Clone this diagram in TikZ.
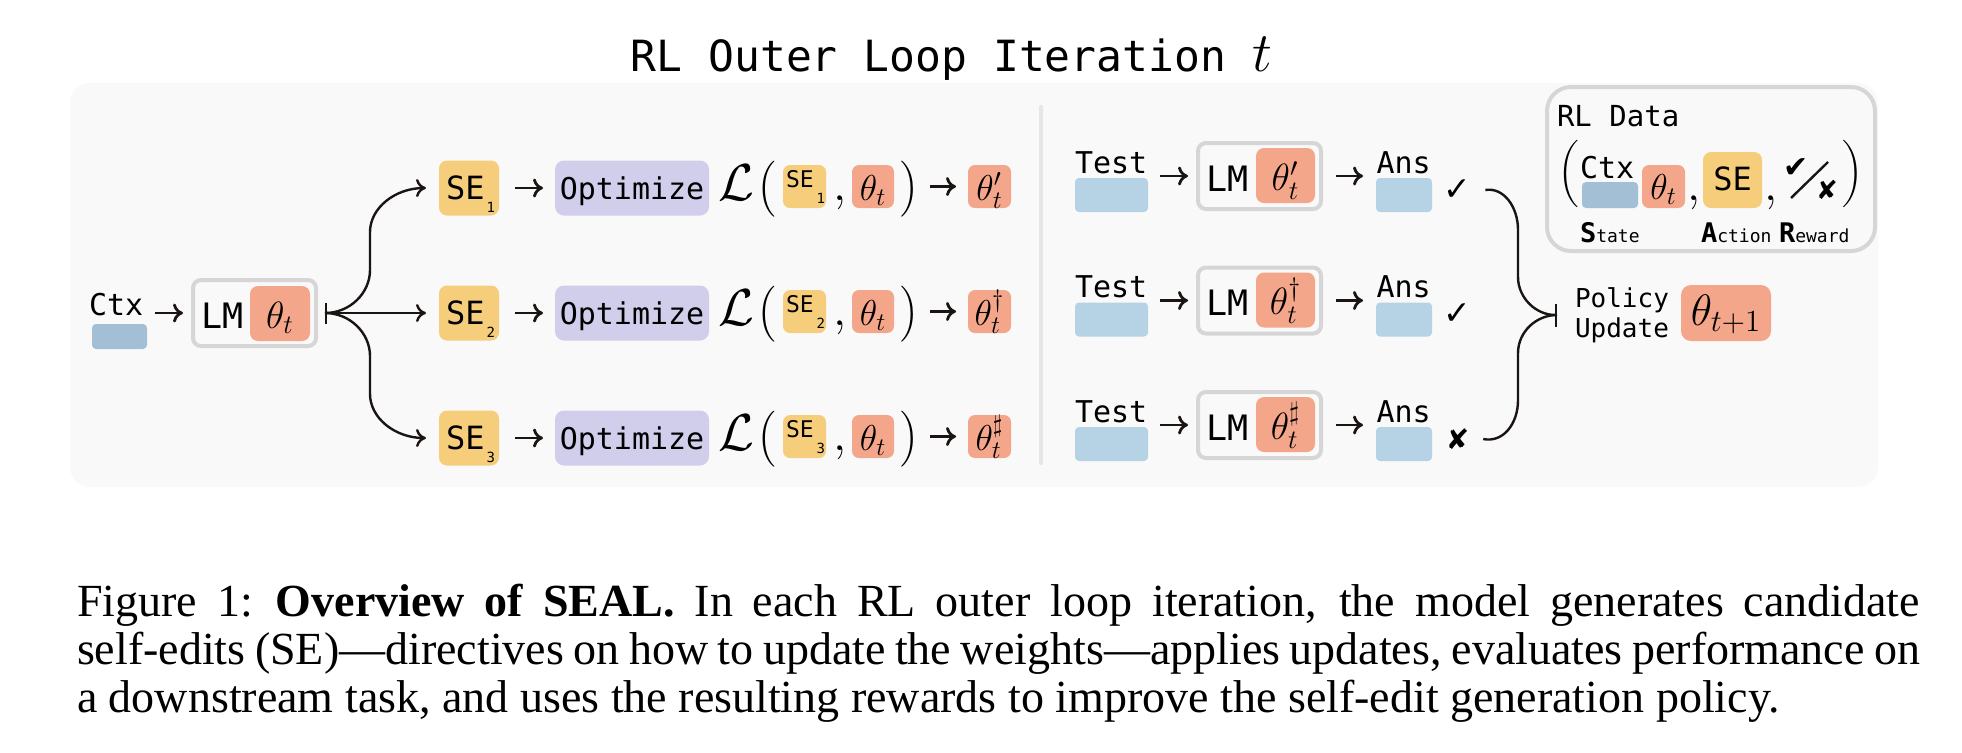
\RequirePackage{fix-cm}
\documentclass[tikz,border=0pt]{standalone}
\usepackage{amsmath,amssymb}
\usepackage{fontspec}
\usepackage{tikz}
\usetikzlibrary{arrows.meta}

\newfontfamily\monofont{DejaVu Sans Mono}
\newfontfamily\symbfont{DejaVu Sans}
\newfontfamily\capfont{Liberation Serif}

\definecolor{panelgray}{HTML}{F9F9F9}
\definecolor{thetared}{HTML}{F4A68B}
\definecolor{seyellow}{HTML}{F6CD7B}
\definecolor{optpurple}{HTML}{D1CEEC}
\definecolor{testblue}{HTML}{B6D2E5}
\definecolor{ctxblue}{HTML}{A3BFD6}
\definecolor{framegray}{HTML}{D6D6D6}
\definecolor{splitgray}{HTML}{E6E6E6}
\definecolor{inkblack}{HTML}{1A1512}

\tikzset{
    every node/.style={inner sep=0pt,outer sep=0pt},
    arr/.style={-{To[length=5pt,width=9.5pt]},line width=1.4pt,draw=inkblack},
    forkarr/.style={-{To[length=5pt,width=9pt]},line width=1.2pt,draw=inkblack},
    thetabox/.style={fill=thetared,rounded corners=4pt},
    sebox/.style={fill=seyellow,rounded corners=4pt},
    optbox/.style={fill=optpurple,rounded corners=4.5pt,minimum width=77pt,minimum height=27.5pt},
    lmbox/.style={draw=framegray,line width=2pt,fill=panelgray,rounded corners=4pt,minimum width=61.5pt,minimum height=33pt},
    inbar/.style={rounded corners=2pt},
    mono/.style={font=\monofont\fontsize{15}{18}\selectfont},
    lmtext/.style={font=\monofont\fontsize{17.5}{20}\selectfont},
    bigtheta/.style={font=\fontsize{19}{21}\selectfont},
    smalltheta/.style={font=\fontsize{18}{20}\selectfont},
    captext/.style={anchor=base west,font=\capfont\fontsize{23}{24}\selectfont},
}

\begin{document}
\begin{tikzpicture}[x=0.5pt,y=-0.5pt]
    \useasboundingbox (0,0) rectangle (1962,752);
    \fill[panelgray,rounded corners=10pt] (70,83) rectangle (1878,487);
    \draw[splitgray,line width=2pt,line cap=round] (1041,107) -- (1041,463);

    \node[anchor=base west,font=\monofont\fontsize{21.5}{24}\selectfont] (title) at (630.7,71)
        {RL Outer Loop Iteration~{\fontsize{28}{28}\selectfont$t$}};

    % context and current model
    \node[anchor=base west,mono] (ctxlbl) at (89,315) {Ctx};
    \node[fill=ctxblue,inbar,minimum width=27.5pt,minimum height=12.5pt] (ctx) at (119.5,336.5) {};
    \node[lmbox] (lm) at (254.5,313) {};
    \node[thetabox,minimum width=30pt,minimum height=27.5pt] (lmth) at (280,313.5) {};
    \node[anchor=base west,lmtext] (lmlbl) at (201.5,328) {LM};
    \node[anchor=base,bigtheta] (lmthlbl) at (280,328) {$\theta_t$};
    \draw[arr,shorten <=6pt,shorten >=5pt] (ctxlbl.east |- lm.west) -- (lm.west);

    % self-edits and inner optimisation
    \foreach \r/\y/\deco in {1/188/\prime,2/313/\dagger,3/438/\sharp}{
        \node[sebox,minimum width=30pt,minimum height=27.5pt] (se\r) at (469,\y) {};
        \node[anchor=base west,font=\monofont\fontsize{16}{18}\selectfont] (selbl\r) at (446,\y+11)
            {SE\kern1pt\raisebox{-6.5pt}{\fontsize{7}{7}\selectfont\r}};
        \node[optbox] (opt\r) at (632,\y) {};
        \node[anchor=base,mono] (optlbl\r) at (632,\y+11) {Optimize};
        \node[anchor=base,font=\fontsize{26}{28}\selectfont] (loss\r) at (736,\y+12) {$\mathcal{L}$};
        \node[font=\fontsize{15.5}{17}\selectfont] (lp\r) at (766.5,\y+1) {$\Big($};
        \node[sebox,rounded corners=3.5pt,minimum width=21.5pt,minimum height=21.5pt] (ses\r) at (804.5,\y-1.5) {};
        \node[anchor=base west,font=\monofont\fontsize{11.5}{13}\selectfont] (seslbl\r) at (786,\y-1)
            {SE\kern1.5pt\raisebox{-8pt}{\fontsize{7}{7}\selectfont\r}};
        \node[anchor=base,font=\fontsize{24}{26}\selectfont] (cm\r) at (840,\y+12) {$,$};
        \node[thetabox,rounded corners=3.5pt,minimum width=21pt,minimum height=21.5pt] (th\r) at (873,\y-1.5) {};
        \node[anchor=base,smalltheta] (thlbl\r) at (873,\y+12) {$\theta_t$};
        \node[font=\fontsize{15.5}{17}\selectfont] (rp\r) at (909.5,\y+1) {$\Big)$};
        \node[thetabox,rounded corners=3.5pt,minimum width=21.5pt,minimum height=21.5pt] (out\r) at (989.5,\y-1.5) {};
        \node[anchor=base,smalltheta] (outlbl\r) at (989.5,\y+12) {$\theta_t^{\deco}$};
        \draw[arr,shorten <=8pt,shorten >=6pt] (se\r) -- (opt\r);
        \draw[arr,shorten <=5.5pt,shorten >=6pt] (rp\r.east |- out\r.west) -- (out\r.west);
    }

    % sampling the self-edits
    \coordinate (fork) at (325,313);
    \draw[forkarr,{Bar[width=10.5pt]}-{To[length=5pt,width=9pt]}] (fork) -- ([xshift=-6.5pt]se2.west);
    \draw[forkarr] (fork) .. controls (350,313) and (370,293) .. (370,270) -- (370,232)
        .. controls (370,208) and (395,188) .. ([xshift=-6.5pt]se1.west);
    \draw[forkarr] (fork) .. controls (350,313) and (370,333) .. (370,356) -- (370,394)
        .. controls (370,418) and (395,438) .. ([xshift=-6.5pt]se3.west);

    % evaluation of the updated models
    \foreach \r/\y/\deco/\mark/\msize in {1/176/\prime/✓/16.5,2/300.5/\dagger/✓/16.5,3/425/\sharp/✘/14}{
        \node[anchor=base west,mono] (testlbl\r) at (1075,\y-3) {Test};
        \node[fill=testblue,inbar,minimum width=36.5pt,minimum height=17pt] (test\r) at (1111.5,\y+19) {};
        \node[lmbox] (lmr\r) at (1259.5,\y) {};
        \node[thetabox,minimum width=29.5pt,minimum height=27.5pt] (lmrth\r) at (1285.5,\y-0.5) {};
        \node[anchor=base west,lmtext] (lmrlbl\r) at (1206.5,\y+15) {LM};
        \node[anchor=base,bigtheta] (lmrthlbl\r) at (1285.5,\y+14) {$\theta_t^{\deco}$};
        \node[anchor=base west,mono] (anslbl\r) at (1376.5,\y-3) {Ans};
        \node[fill=testblue,inbar,minimum width=28pt,minimum height=17pt] (ans\r) at (1404,\y+19) {};
        \node[font=\symbfont\fontsize{\msize}{\msize}\selectfont] (mark\r) at (1457.5,\y+14) {\mark};
        \draw[arr,shorten <=6.5pt,shorten >=5pt] (testlbl\r.east |- lmr\r.west) -- (lmr\r.west);
        \draw[arr,shorten <=7.5pt,shorten >=6.75pt] (lmr\r.east) -- (lmr\r.east -| anslbl\r.west);
    }

    % rewards into the policy update
    \coordinate (upd) at (1557,315);
    \draw[forkarr,-{Bar[width=11.5pt]}] ([xshift=7pt]mark1.east) .. controls (1503,187) and (1518,206) .. (1518,230)
        -- (1518,277) .. controls (1518,298) and (1536,315) .. (upd);
    \draw[forkarr,-] ([xshift=7pt]mark3.east) .. controls (1503,443) and (1518,424) .. (1518,400)
        -- (1518,353) .. controls (1518,332) and (1536,315) .. (upd);
    \node[anchor=base west,font=\monofont\fontsize{13}{15}\selectfont] (pol) at (1575,307) {Policy};
    \node[anchor=base west,font=\monofont\fontsize{13}{15}\selectfont] (upl) at (1575,337) {Update};
    \node[thetabox,rounded corners=5pt,minimum width=45pt,minimum height=28pt] (next) at (1726,313) {};
    \node[anchor=base,font=\fontsize{22}{24}\selectfont] (nextlbl) at (1726,325) {$\theta_{t+1}$};

    % RL data
    \node[draw=framegray,line width=2pt,fill=panelgray,rounded corners=12pt,minimum width=164pt,minimum height=82pt] (rlbox) at (1711,169) {};
    \node[anchor=base west,font=\monofont\fontsize{14.5}{16}\selectfont] (rllbl) at (1557,126) {RL Data};
    \node[font=\fontsize{14}{16}\selectfont] (rllp) at (1569,174) {$\bigg($};
    \node[anchor=base west,mono] (rlctxlbl) at (1580,178) {Ctx};
    \node[fill=ctxblue,inbar,minimum width=28pt,minimum height=13pt] (rlctx) at (1610,195) {};
    \node[thetabox,rounded corners=3.5pt,minimum width=21.5pt,minimum height=21.5pt] (rlth) at (1663.5,186.5) {};
    \node[anchor=base,smalltheta] (rlthlbl) at (1663.5,199) {$\theta_t$};
    \node[anchor=base,font=\fontsize{24}{26}\selectfont] (rlcm1) at (1694,200) {$,$};
    \node[sebox,minimum width=29.5pt,minimum height=28pt] (rlse) at (1732.5,180) {};
    \node[anchor=base,font=\monofont\fontsize{16}{18}\selectfont] (rlselbl) at (1732.5,190) {SE};
    \node[anchor=base,font=\fontsize{24}{26}\selectfont] (rlcm2) at (1771,200) {$,$};
    \node[font=\symbfont\fontsize{15}{15}\selectfont] (rlcheck) at (1796.5,168.5) {✔};
    \node[font=\symbfont\fontsize{13}{13}\selectfont] (rlcross) at (1827,190) {✘};
    \draw[line width=1.2pt,draw=inkblack] (1791,198) -- (1828,162);
    \node[font=\fontsize{14}{16}\selectfont] (rlrp) at (1853,174) {$\bigg)$};
    \node[anchor=base west] (rlstate) at (1580,242)
        {{\monofont\bfseries\fontsize{13.5}{15}\selectfont S}{\monofont\fontsize{9}{10}\selectfont tate}};
    \node[anchor=base west] (rlaction) at (1701,242)
        {{\monofont\bfseries\fontsize{13.5}{15}\selectfont A}{\monofont\fontsize{9}{10}\selectfont ction}};
    \node[anchor=base west] (rlreward) at (1779,242)
        {{\monofont\bfseries\fontsize{13.5}{15}\selectfont R}{\monofont\fontsize{9}{10}\selectfont eward}};

    % caption
    \node[captext] (cap1) at (77,616)
        {\hbox to 921.5pt{Figure 1:\enspace\textbf{Overview of SEAL.} In each RL outer loop iteration, the model generates candidate}};
    \node[captext] (cap2) at (77,664)
        {\hbox to 921.5pt{self-edits (SE)—directives on how to update the weights—applies updates, evaluates performance on}};
    \node[captext] (cap3) at (77,712)
        {a downstream task, and uses the resulting rewards to improve the self-edit generation policy.};
\end{tikzpicture}
\end{document}
